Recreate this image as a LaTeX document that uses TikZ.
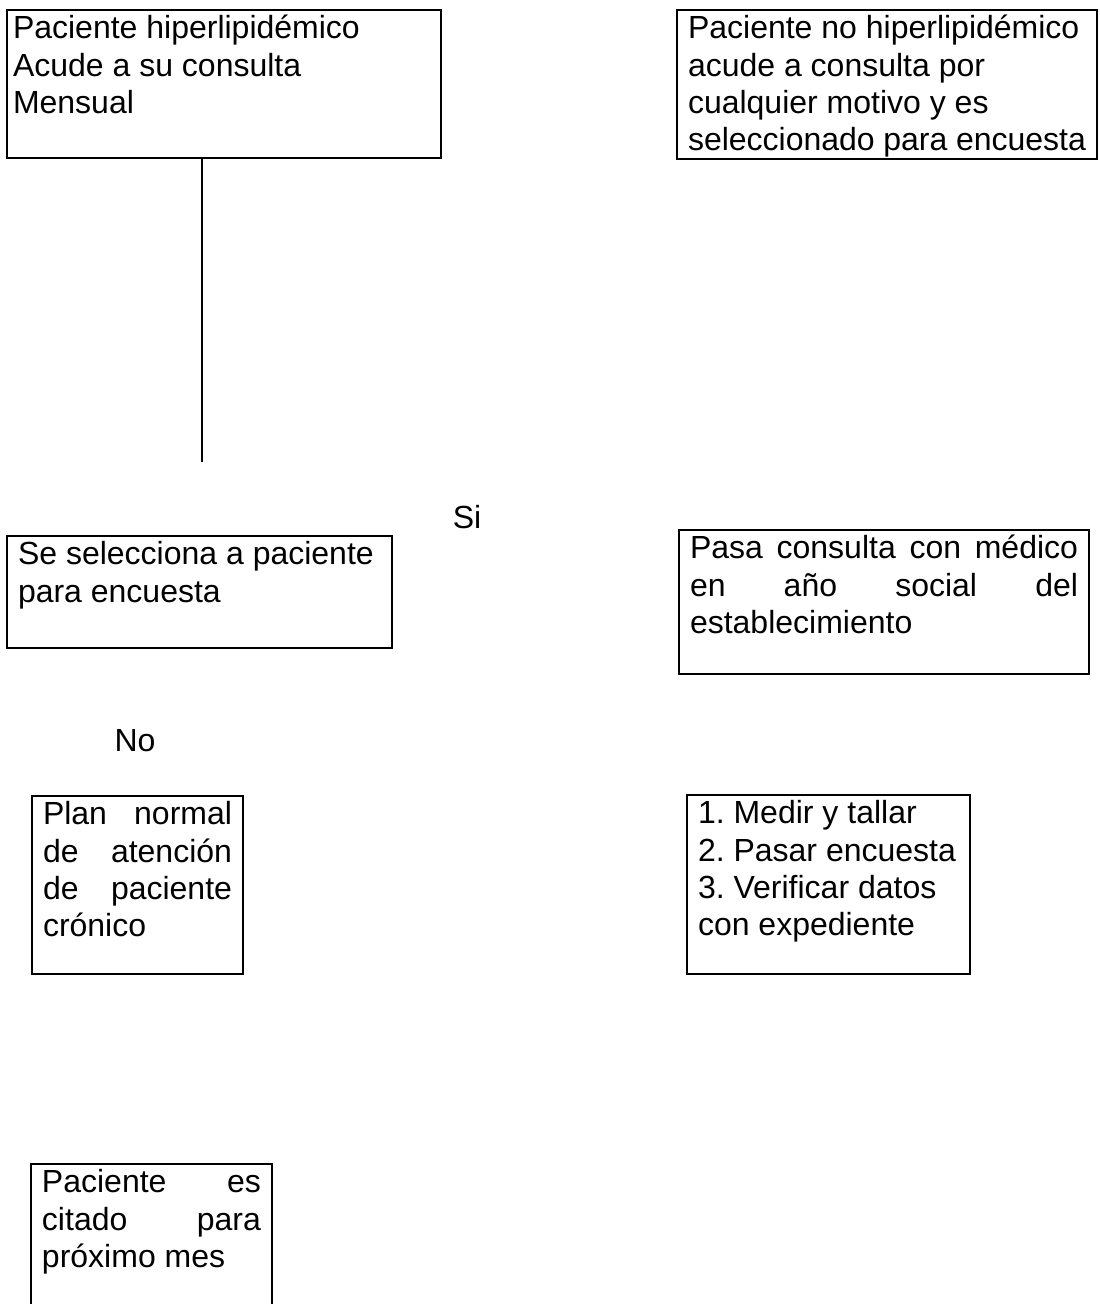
\documentclass[tikz,border=0pt]{standalone}
\usepackage{fontspec}
\setmainfont{Liberation Sans}
\frenchspacing
\newlength{\px}\setlength{\px}{0.375pt}
\tikzset{caja/.style={draw,line width=0.75pt,anchor=north west,inner xsep=11\px,inner ysep=3\px,outer sep=0pt,font=\fontsize{12}{13.9}\selectfont},
  etiqueta/.style={font=\fontsize{12}{13.9}\selectfont}}
\newcommand{\caja}[6]{\node[caja] (#1) at (#2,#3) {\parbox[t][\dimexpr#5\px-6\px\relax][t]{\dimexpr#4\px-22\px\relax}{\raggedright\strut#6}};}
\newcommand{\just}[1]{\makebox[\linewidth][s]{#1}}
\begin{document}
\begin{tikzpicture}[x=0.375pt,y=-0.375pt]
  \useasboundingbox (0,0) rectangle (1099,1304);
  \caja{hiper}{7}{10}{434}{148}{\hspace*{-5\px}Paciente hiperlipidémico\\\hspace*{-5\px}Acude a su consulta\\\hspace*{-5\px}Mensual}
  \caja{nohiper}{677}{10}{420}{149}{Paciente no hiperlipidémico\\acude a consulta por\\cualquier motivo y es\\seleccionado para encuesta}
  \caja{selec}{7}{536}{385}{112}{Se selecciona a paciente\\para encuesta}
  \caja{medico}{679}{530}{410}{144}{\just{Pasa consulta con médico}\\\just{en año social del}\\establecimiento}
  \caja{plan}{32}{796}{211}{178}{\just{Plan normal}\\\just{de atención}\\\just{de paciente}\\crónico}
  \caja{pasos}{687}{795}{283}{179}{1. Medir y tallar\\2. Pasar encuesta\\3. Verificar datos\\con expediente}
  \caja{cita}{31}{1164}{241}{150}{\just{Paciente es}\\\just{citado para}\\próximo mes}
  \coordinate (finlinea) at (202,462);
  \draw[line width=0.75pt] (hiper.south -| finlinea) -- (finlinea);
  \node[etiqueta] (si) at (467,517) {Si};
  \node[etiqueta] (no) at (135,741) {No};
\end{tikzpicture}
\end{document}
